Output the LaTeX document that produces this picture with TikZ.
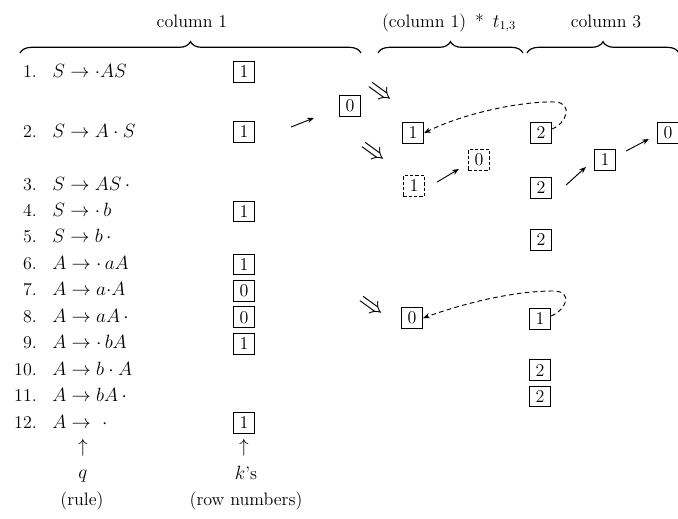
\documentclass[tikz,border=0pt]{standalone}
\usetikzlibrary{decorations.pathreplacing,calc,arrows.meta}
\begin{document}
\begin{tikzpicture}[x=0.75pt,y=-0.75pt,
  font=\fontsize{13.5}{16}\selectfont,
  kbox/.style={draw,line width=0.7pt,inner sep=0pt,minimum width=16pt,minimum height=15.5pt},
  dbox/.style={kbox,dash pattern=on 2.5pt off 1.5pt},
  num/.style={anchor=base east,inner sep=0pt},
  rulet/.style={anchor=base west,inner sep=0pt},
  lbl/.style={anchor=base,inner sep=0pt},
  brc/.style={decorate,decoration={brace,amplitude=8.5pt},line width=0.9pt},
  arr/.style={-{Stealth[length=5pt,width=4pt]},line width=0.7pt},
  darr/.style={arr,dash pattern=on 3.5pt off 2.5pt},
  imp/.style={font=\fontsize{20}{20}\selectfont,rotate=-36,inner sep=0pt},
]
\useasboundingbox (0,0) rectangle (678,518);

% headings and braces
\node[lbl] (h1) at (192,27) {column 1};
\node[lbl] (h2) at (449,27) {(column 1) \,*\, $t_{1,3}$};
\node[lbl] (h3) at (606,27) {column 3};
\draw[brc] (20,53) -- (361,53);
\draw[brc] (378,53) -- (523,53);
\draw[brc] (527,53) -- (679,53);

% rule numbers
\foreach \n/\y in {1/77,2/137,3/190,4/216.4,5/242.9,6/269.3,7/295.8,8/322.2,9/348.7,10/375.1,11/401.6,12/428}
  \node[num] (n\n) at (37,\y) {\n.};

% dotted rules
\node[rulet] (r1)  at (52,77)    {$S\rightarrow\cdot AS$};
\node[rulet] (r2)  at (52,137)   {$S\rightarrow A\cdot S$};
\node[rulet] (r3)  at (52,190)   {$S\rightarrow AS\,\cdot$};
\node[rulet] (r4)  at (52,216.4) {$S\rightarrow\cdot\, b$};
\node[rulet] (r5)  at (52,242.9) {$S\rightarrow b\,\cdot$};
\node[rulet] (r6)  at (52,269.3) {$A\rightarrow\cdot\, aA$};
\node[rulet] (r7)  at (52,295.8) {$A\rightarrow a{\cdot}A$};
\node[rulet] (r8)  at (52,322.2) {$A\rightarrow aA\,\cdot$};
\node[rulet] (r9)  at (52,348.7) {$A\rightarrow\cdot\, bA$};
\node[rulet] (r10) at (52,375.1) {$A\rightarrow b\cdot A$};
\node[rulet] (r11) at (52,401.6) {$A\rightarrow bA\,\cdot$};
\node[rulet] (r12) at (52,428)   {$A\rightarrow\ \cdot$};

% row numbers k of column 1
\node[kbox] (k1)  at (244,72)    {1};
\node[kbox] (k2)  at (244,132)   {1};
\node[kbox] (k4)  at (244,211.4) {1};
\node[kbox] (k6)  at (244,264.3) {1};
\node[kbox] (k7)  at (244,290.8) {0};
\node[kbox] (k8)  at (244,317.2) {0};
\node[kbox] (k9)  at (244,343.7) {1};
\node[kbox] (k12) at (244,423)   {1};

% captions under the columns
\node (uq) at (83,448) {$\uparrow$};
\node (uk) at (244,448) {$\uparrow$};
\node[lbl] (q)  at (83,478)  {$q$};
\node[lbl] (ks) at (246,479) {$k$'s};
\node[lbl] (qr) at (82,505)  {(rule)};
\node[lbl] (kr) at (246,505) {(row numbers)};

% column 1 * t_{1,3}
\node[kbox] (b0) at (350,106) {0};
\node[imp] (i1) at (380,94)  {$\Rightarrow$};
\node[imp] (i2) at (373,154) {$\Rightarrow$};
\node[imp] (i3) at (371,308) {$\Rightarrow$};
\node[kbox] (c2a) at (413,133) {1};
\node[dbox] (d1)  at (414,186) {1};
\node[dbox] (d0)  at (479,160) {0};
\node[kbox] (c2d) at (412,318) {0};

% column 3
\node[kbox] (c3a) at (541,133) {2};
\node[kbox] (c3b) at (541,188) {2};
\node[kbox] (c3c) at (541,240) {2};
\node[kbox] (c3d) at (540,319) {1};
\node[kbox] (c3g) at (540,370.1) {2};
\node[kbox] (c3h) at (540,396.6) {2};
\node[kbox] (c3e) at (605,160) {1};
\node[kbox] (c3f) at (668,133) {0};

% short arrows
\draw[arr] ($(k2.east)+(36,-5)$) -- ($(b0.west)+(-25,12)$);
\draw[arr] ($(d1.east)+(12,-4)$) -- ($(d0.west)+(-9,9)$);
\draw[arr] ($(c3b.east)+(14,-3)$) -- ($(c3e.west)+(-8,7)$);
\draw[arr] ($(c3e.east)+(10,-9)$) -- ($(c3f.west)+(-8,6)$);

% dashed back references
\draw[darr] ($(c3a.east)+(0,-4)$) .. controls (566,124) and (574,103) .. (555,102)
            .. controls (520,101) and (462,114) .. (c2a.east);
\draw[darr] ($(c3d.east)+(0,-3)$) .. controls (566,310) and (574,291) .. (553,291)
            .. controls (512,291) and (462,304) .. (c2d.east);
\end{tikzpicture}
\end{document}
